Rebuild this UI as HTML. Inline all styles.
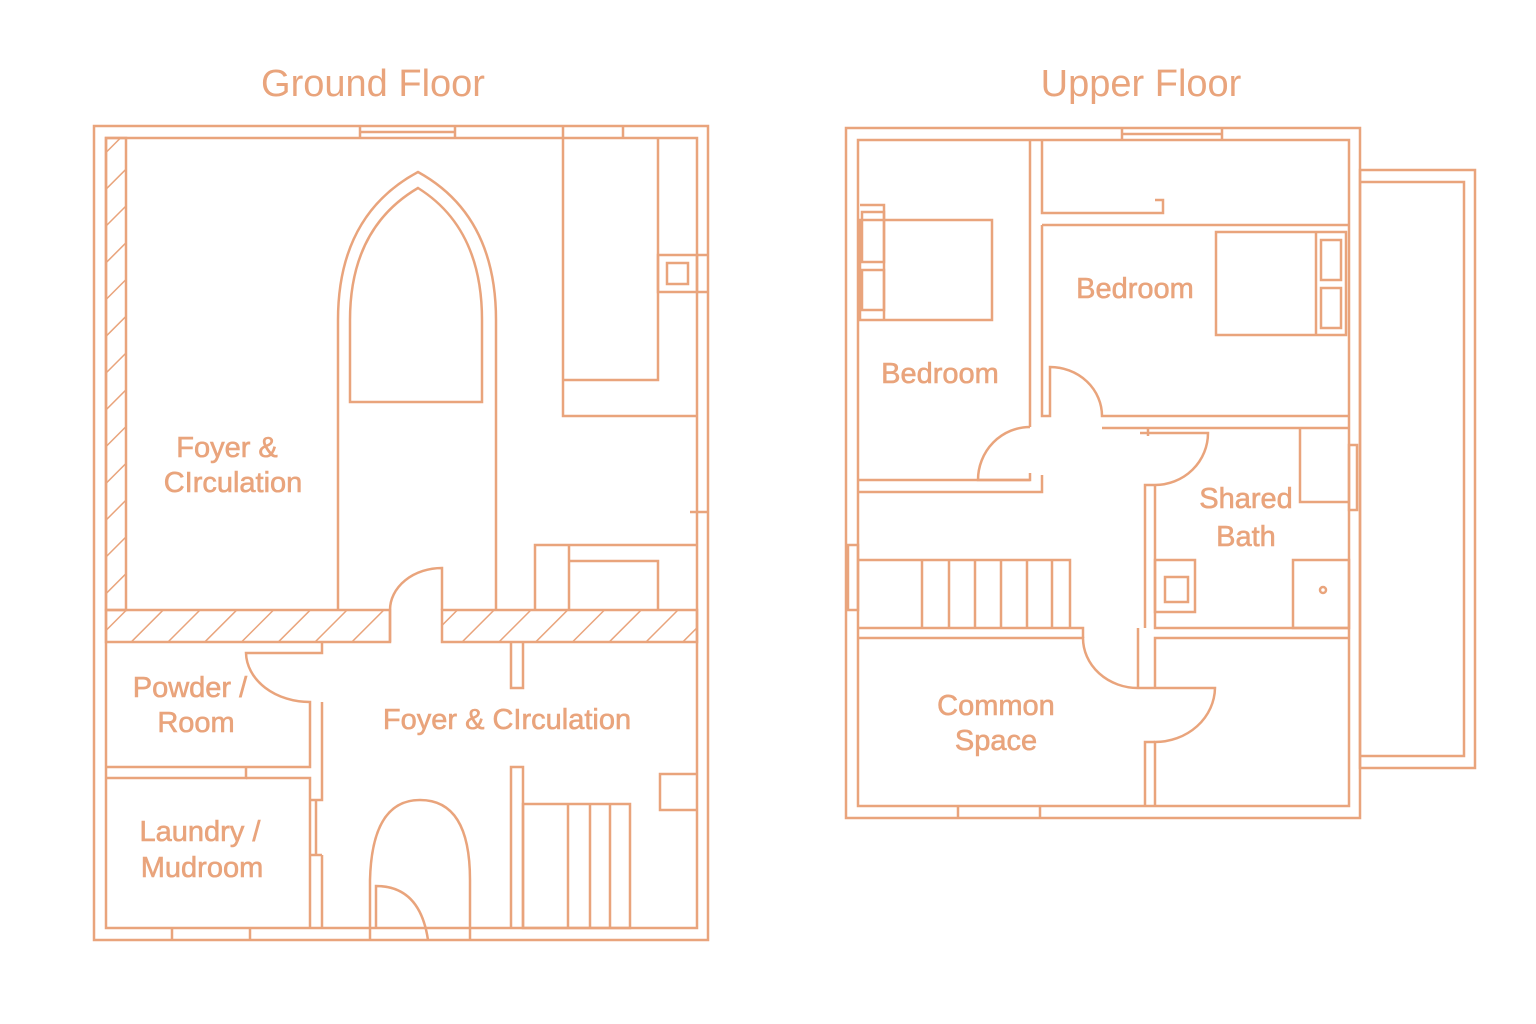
<!DOCTYPE html>
<html><head><meta charset="utf-8"><style>
html,body{margin:0;padding:0;background:#fff;}
svg{display:block}
text{font-family:"Liberation Sans","DejaVu Sans",sans-serif;fill:#E9A47C;}
</style></head><body>
<svg width="1536" height="1024" viewBox="0 0 1536 1024" xmlns="http://www.w3.org/2000/svg">
<defs>
<pattern id="h" patternUnits="userSpaceOnUse" width="26" height="26" patternTransform="rotate(45)">
<line x1="0" y1="0" x2="0" y2="26" stroke="#E9A47C" stroke-width="3"/>
</pattern>
</defs>
<g fill="none" stroke="#E9A47C" stroke-width="2.5">
<rect x="94" y="126" width="614" height="814"/>
<rect x="106" y="138" width="591" height="790"/>
<line x1="360" y1="126" x2="360" y2="138"/><line x1="455" y1="126" x2="455" y2="138"/><line x1="360" y1="132" x2="455" y2="132"/>
<line x1="563" y1="126" x2="563" y2="138"/><line x1="623" y1="126" x2="623" y2="138"/>
<rect x="106" y="138" width="20" height="472" fill="url(#h)"/>
<rect x="106" y="610" width="284" height="32" fill="url(#h)"/>
<rect x="442" y="610" width="255" height="32" fill="url(#h)"/>
<path d="M390 642 L390 610 A52 42 0 0 1 442 568 L442 610"/>
<path d="M338 610 L338 320 Q338 215 418 172 Q496 215 496 320 L496 610"/>
<path d="M350 402 L350 320 Q350 228 418 188 Q482 228 482 320 L482 402 Z"/>
<path d="M563 138 L563 416 L697 416"/>
<path d="M563 380 L658 380 L658 138"/>
<rect x="658" y="255" width="39" height="37"/><rect x="667" y="263" width="21" height="21"/>
<line x1="697" y1="255" x2="708" y2="255"/><line x1="697" y1="292" x2="708" y2="292"/>
<line x1="690" y1="512" x2="708" y2="512"/>
<path d="M535 610 L535 545 L697 545"/><line x1="569" y1="545" x2="569" y2="610"/>
<path d="M569 561 L658 561 L658 610"/>
<path d="M310 653 L246 653 A64 50 0 0 0 310 702 L310 767 L106 767"/>
<path d="M322 642 L322 653 L310 653"/>
<path d="M106 778 L246 778 L246 767"/>
<path d="M246 778 L310 778 L310 928"/>
<path d="M322 702 L322 800 L310 800"/><path d="M322 855 L322 928"/><line x1="316" y1="800" x2="316" y2="855"/>
<path d="M310 855 L322 855"/>
<line x1="172" y1="928" x2="172" y2="940"/><line x1="250" y1="928" x2="250" y2="940"/>
<path d="M370 940 L370 880 Q372 800 420 800 Q470 800 470 880 L470 940"/>
<path d="M376 928 L376 886 Q420 886 428 940"/>
<path d="M511 642 L511 688 L523 688 L523 642"/>
<path d="M511 928 L511 767 L523 767 L523 928"/>
<rect x="523" y="804" width="107" height="124"/>
<line x1="568" y1="804" x2="568" y2="928"/><line x1="590" y1="804" x2="590" y2="928"/><line x1="610" y1="804" x2="610" y2="928"/>
<path d="M697 774 L660 774 L660 810 L697 810"/>

<rect x="846" y="128" width="514" height="690"/>
<rect x="858" y="140" width="491" height="666"/>
<rect x="1360" y="170" width="115" height="598"/>
<path d="M1360 182 L1464 182 L1464 756 L1360 756"/>
<line x1="1122" y1="128" x2="1122" y2="140"/><line x1="1222" y1="128" x2="1222" y2="140"/><line x1="1122" y1="134" x2="1222" y2="134"/>
<line x1="958" y1="806" x2="958" y2="818"/><line x1="1040" y1="806" x2="1040" y2="818"/>
<path d="M1030 140 L1030 427"/><path d="M1042 140 L1042 213 L1163 213 L1163 200 L1155 200"/>
<path d="M1042 225 L1349 225"/>
<path d="M1042 225 L1042 416 L1050 416 L1050 367 A52 49 0 0 1 1102 416 L1349 416"/>
<path d="M1102 428 L1349 428"/>
<path d="M1030 427 A52 53 0 0 0 978 480 L1030 480 L1030 473"/>
<path d="M858 480 L1030 480"/><path d="M858 492 L1042 492 L1042 475"/>
<rect x="860" y="220" width="132" height="100"/>
<rect x="862" y="212" width="22" height="50"/><rect x="862" y="270" width="22" height="40"/>
<path d="M860 205 L884 205 L884 320"/>
<rect x="1216" y="232" width="130" height="103"/>
<line x1="1316" y1="232" x2="1316" y2="335"/>
<rect x="1321" y="240" width="20" height="40"/><rect x="1321" y="288" width="20" height="40"/>
<path d="M1140 433 L1208 433 A53 52 0 0 1 1155 485 L1145 485 L1145 628"/>
<path d="M1155 485 L1155 628 L1349 628"/>
<line x1="1148" y1="428" x2="1148" y2="436"/>
<path d="M1300 428 L1300 502 L1349 502"/>
<rect x="1293" y="560" width="56" height="68"/><circle cx="1323" cy="590" r="3"/>
<rect x="1155" y="560" width="40" height="52"/><rect x="1165" y="577" width="23" height="25"/>
<rect x="1349" y="445" width="8" height="65"/>
<rect x="848" y="545" width="10" height="65"/>
<path d="M858 560 L1070 560 L1070 628"/>
<path d="M858 628 L1083 628 L1083 638"/>
<line x1="922" y1="560" x2="922" y2="628"/><line x1="949" y1="560" x2="949" y2="628"/><line x1="975" y1="560" x2="975" y2="628"/><line x1="1001" y1="560" x2="1001" y2="628"/><line x1="1027" y1="560" x2="1027" y2="628"/><line x1="1052" y1="560" x2="1052" y2="628"/>
<path d="M858 638 L1083 638 A55 50 0 0 0 1138 688 L1215 688 A60 55 0 0 1 1155 742 L1155 806"/>
<path d="M1138 688 L1138 628"/>
<path d="M1145 806 L1145 742 L1155 742"/>
<path d="M1155 688 L1155 638 L1349 638"/>
</g>
<text x="373" y="96" font-size="38" text-anchor="middle">Ground Floor</text>
<text x="1141" y="96" font-size="38" text-anchor="middle">Upper Floor</text>
<g font-size="29" text-anchor="middle" stroke="#E9A47C" stroke-width="0.6">
<text x="227" y="457">Foyer &amp;</text>
<text x="233" y="492">CIrculation</text>
<text x="190" y="697">Powder /</text>
<text x="196" y="732">Room</text>
<text x="200" y="841">Laundry /</text>
<text x="202" y="877">Mudroom</text>
<text x="507" y="729">Foyer &amp; CIrculation</text>
<text x="1135" y="298">Bedroom</text>
<text x="940" y="383">Bedroom</text>
<text x="1246" y="508">Shared</text>
<text x="1246" y="546">Bath</text>
<text x="996" y="715">Common</text>
<text x="996" y="750">Space</text>
</g>
</svg>
</body></html>
